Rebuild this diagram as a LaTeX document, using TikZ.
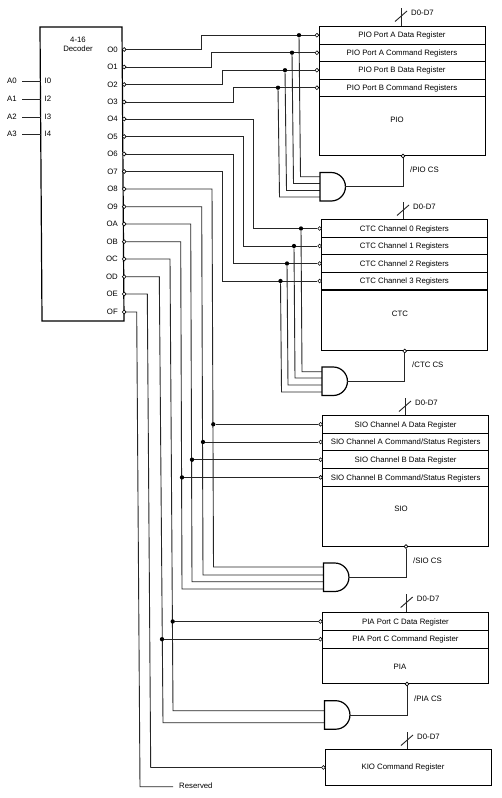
\documentclass[tikz,border=0pt]{standalone}
\usepackage{fontspec}
\setmainfont{Liberation Sans}
\tikzset{
  wire/.style={line width=0.9pt,black!85},
  boxline/.style={line width=1.2pt,black},
  lab/.style={font=\fontsize{7.8}{9.4}\selectfont,inner sep=0pt},
  regrow/.style={draw,line width=0.9pt,anchor=north west,inner sep=0pt,minimum height=#1,text height=5.6pt,text depth=0.2pt,font=\fontsize{7.8}{9.4}\selectfont},
  bodybox/.style={draw,line width=1.2pt,anchor=north west,inner sep=0pt,minimum height=#1},
  bub/.style={circle,draw,line width=0.6pt,fill=white,inner sep=0pt,minimum size=3.8pt},
  jdot/.style={circle,fill=black,inner sep=0pt,minimum size=4.3pt},
  andg/.style={line width=1.2pt,fill=white},
}
\begin{document}
\begin{tikzpicture}[x=1pt,y=-1pt]
\useasboundingbox (0,0) rectangle (502,798);
\fill[white] (0,0) rectangle (502,798);

% Decoder
\draw[boxline] (40,27) -- (122,27) -- (124,321) -- (42,321) -- cycle;
\node[lab,align=center] (dectitle) at (78,44.5) {4-16\\Decoder};
\foreach \n/\y in {0/49.5,1/67,2/84.5,3/102,4/119,5/136.5,6/154,7/171.5,8/189,9/206.7,A/224,B/241.7,C/259,D/276.7,E/294,F/312}{
  \node[bub] (o\n) at (124.2,\y) {};
  \node[lab,anchor=east] (ol\n) at (118,\y) {O\n};
}
% Inputs
\foreach \a/\i/\y in {0/0/81,1/2/99,2/3/117,3/4/134}{
  \coordinate (ia\a) at (22,\y);
  \coordinate (ib\a) at (40.7,\y);
  \draw[wire] (ia\a) -- (ib\a);
  \node[lab] (al\a) at (12,\y) {A\a};
  \node[lab,anchor=west] (il\a) at (44.5,\y) {I\i};
}

% PIO
\node[regrow=17.5pt,minimum width=166pt] (pioA) at (318.5,26) {PIO Port A Data Register};
\node[regrow=17.5pt,minimum width=166pt] (pioB) at (318.5,43.5) {PIO Port A Command Registers};
\node[regrow=17.5pt,minimum width=166pt] (pioC) at (318.5,61) {PIO Port B Data Register};
\node[regrow=17.5pt,minimum width=166pt] (pioD) at (318.5,78.5) {PIO Port B Command Registers};
\node[bodybox=59pt,minimum width=166pt] (pio) at (318.5,96) {};
\node[lab] (piol) at (397,120) {PIO};

% CTC
\node[regrow=17.5pt,minimum width=165.5pt] (ctcA) at (321.2,219.3) {CTC Channel 0 Registers};
\node[regrow=17.5pt,minimum width=165.5pt] (ctcB) at (321.2,236.8) {CTC Channel 1 Registers};
\node[regrow=17.5pt,minimum width=165.5pt] (ctcC) at (321.2,254.3) {CTC Channel 2 Registers};
\node[regrow=17.5pt,minimum width=165.5pt] (ctcD) at (321.2,271.8) {CTC Channel 3 Registers};
\node[bodybox=60.5pt,minimum width=165.5pt] (ctc) at (321.2,289.3) {};
\node[lab] (ctcl) at (400,314) {CTC};

% SIO
\node[regrow=17.7pt,minimum width=166pt] (sioA) at (322.2,415) {SIO Channel A Data Register};
\node[regrow=17.7pt,minimum width=166pt] (sioB) at (322.2,432.7) {SIO Channel A Command/Status Registers};
\node[regrow=17.7pt,minimum width=166pt] (sioC) at (322.2,450.4) {SIO Channel B Data Register};
\node[regrow=17.7pt,minimum width=166pt] (sioD) at (322.2,468.1) {SIO Channel B Command/Status Registers};
\node[bodybox=60pt,minimum width=166pt] (sio) at (322.2,485.8) {};
\node[lab] (siol) at (401,509) {SIO};

% PIA
\node[regrow=18pt,minimum width=166pt] (piaA) at (322,612) {PIA Port C Data Register};
\node[regrow=17.5pt,minimum width=166pt] (piaB) at (322,630) {PIA Port C Command Register};
\node[bodybox=35.5pt,minimum width=166pt] (pia) at (322,647.5) {};
\node[lab] (pial) at (400,667) {PIA};

% KIO
\node[bodybox=35.7pt,minimum width=165.5pt] (kio) at (325,749) {};
\node[lab] (kiol) at (403,767) {KIO Command Register};

% Register bubbles
\foreach \r in {pioA,pioB,pioC,pioD,ctcA,ctcB,ctcC,ctcD,sioA,sioB,sioC,sioD,piaA,piaB}{
  \node[bub] (b\r) at ([xshift=-1.6pt]\r.west) {};
}
\node[bub] (bkio) at ([xshift=-1.6pt]kio.west) {};

% Data buses
\foreach \r/\x/\t in {pioA/401/8,ctcA/403/202,sioA/405/398,piaA/406.7/594,kio/407/732}{
  \coordinate (bus\r) at (\x,\t);
  \coordinate (bs\r) at (\x-6,\t+13.5);
  \coordinate (be\r) at (\x+6,\t+3);
  \draw[wire] (bus\r) -- (bus\r |- \r.north);
  \draw[wire] (bs\r) -- (be\r);
  \node[lab,anchor=west] (dl\r) at (\x+10,\t+4.5) {D0-D7};
}

% Left edges of the gates
\coordinate (gxpio) at (320,0);
\coordinate (gxctc) at (322,0);
\coordinate (gxsio) at (323.5,0);
\coordinate (gxpia) at (324.5,0);

% PIO and CTC groups: decoder -> register, tapped to the gate
\foreach \o/\r/\g/\vx/\dx/\gx/\gy in {0/pioA/pio/201/299/300.5/176.7,1/pioB/pio/211.7/292/293.5/183.5,2/pioC/pio/222.7/285/286.5/190.5,3/pioD/pio/233.5/278/279.5/197,
                                    4/ctcA/ctc/253/301/302/371.7,5/ctcB/ctc/243/294/295/378,6/ctcC/ctc/233/287/288/385,7/ctcD/ctc/222/280.5/281.5/392}{
  \coordinate (v\o) at (\vx,0);
  \draw[wire] (o\o.east) -- (o\o.east -| v\o) -- (b\r.west -| v\o) -- (b\r.west);
  \coordinate (dp\o) at (\dx,0);
  \node[jdot] (d\o) at (b\r.west -| dp\o) {};
  \coordinate (gi\o) at (\gx,\gy);
  \draw[wire] (d\o) -- (gi\o) -- (gi\o -| gx\g);
}

% SIO and PIA groups: decoder -> gate, tapped to the register
\foreach \o/\r/\g/\vx/\bx/\dx/\gy in {8/sioA/sio/212/213.5/213.3/567,9/sioB/sio/201.7/203/203/575,A/sioC/sio/190.7/192/192/581.7,B/sioD/sio/180.7/182/182/589,
                                        C/piaA/pia/170/173/172.7/710.7,D/piaB/pia/159.3/163/162/722.7}{
  \coordinate (top\o) at (\vx,0);
  \coordinate (gi\o) at (\bx,\gy);
  \draw[wire] (o\o.east) -- (o\o.east -| top\o) -- (gi\o) -- (gi\o -| gx\g);
  \coordinate (dp\o) at (\dx,0);
  \node[jdot] (d\o) at (b\r.west -| dp\o) {};
  \draw[wire] (d\o) -- (b\r.west);
}

% AND gates
\foreach \g/\x/\tp/\bt in {pio/320/172.5/201,ctc/322/367/395.5,sio/323.5/563/591.5,pia/324.5/700.7/729.2}{
  \draw[andg] (\x,\tp) -- (\x+11.2,\tp) arc[start angle=-90,end angle=90,radius=14.25] -- (\x,\bt) -- cycle;
  \coordinate (g\g) at (\x+25.4,\tp+14.25);
}

% Chip-select lines
\foreach \g/\x/\t in {pio/403/156,ctc/404.7/351,sio/406/546.5,pia/407/684}{
  \node[bub] (cs\g) at (\x,\t) {};
  \draw[wire] (g\g) -- (g\g -| cs\g) -- (cs\g.south);
}
\node[lab,anchor=west] (cslpio) at (410,170) {/PIO CS};
\node[lab,anchor=west] (cslctc) at (412,365) {/CTC CS};
\node[lab,anchor=west] (cslsio) at (413,561) {/SIO CS};
\node[lab,anchor=west] (cslpia) at (414,699) {/PIA CS};

% KIO and reserved
\coordinate (topE) at (147.3,0);
\coordinate (botE) at (150.7,0);
\draw[wire] (oE.east) -- (oE.east -| topE) -- (botE |- bkio.west) -- (bkio.west);
\coordinate (topF) at (136.7,0);
\coordinate (resv) at (173,786.7);
\coordinate (botF) at (140,0);
\draw[wire] (oF.east) -- (oF.east -| topF) -- (resv -| botF) -- (resv);
\node[lab,anchor=west] (resl) at (179,786) {Reserved};
\end{tikzpicture}
\end{document}
